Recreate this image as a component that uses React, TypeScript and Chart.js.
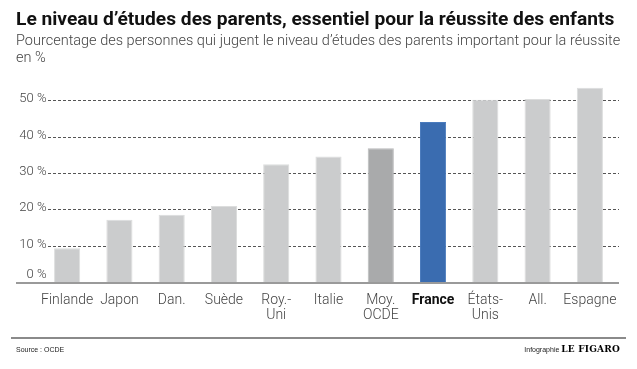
import React, { useEffect, useRef } from "react";
import { Chart, registerables } from "chart.js";

Chart.register(...registerables);

const categories: (string | string[])[] = [
  "Finlande",
  "Japon",
  "Dan.",
  "Suède",
  ["Roy.-", "Uni"],
  "Italie",
  ["Moy.", "OCDE"],
  "France",
  ["États-", "Unis"],
  "All.",
  "Espagne",
];
const values = [9.3, 17.1, 18.5, 20.9, 32.4, 34.5, 36.8, 44.0, 50.1, 50.3, 53.4];
const yTicks = [0, 10, 20, 30, 40, 50];
const yTickLabels = ["0 %", "10 %", "20 %", "30 %", "40 %", "50 %"];

const GREY = "#cbcccd";
const AVG = "#a9aaab";
const BLUE = "#3a6cb0";

const colorFor = (i: number) => (i === 6 ? AVG : i === 7 ? BLUE : GREY);
const borderFor = (i: number) => (i === 6 ? "#b8b9ba" : i === 7 ? "#4a7bbd" : "#dcdddd");

const gridPlugin = {
  id: "figaroGrid",
  beforeDatasetsDraw(chart: any) {
    const { ctx } = chart;
    const y = chart.scales.y;
    ctx.save();
    ctx.font = "300 13px Roboto";
    ctx.fillStyle = "#444";
    ctx.textAlign = "right";
    yTicks.forEach((v, i) => {
      const py = Math.round(y.getPixelForValue(v)) + 0.5;
      if (v > 0) {
        ctx.strokeStyle = "#555";
        ctx.lineWidth = 1;
        ctx.setLineDash([3, 2]);
        ctx.beginPath();
        ctx.moveTo(48, py);
        ctx.lineTo(619, py);
        ctx.stroke();
        ctx.textBaseline = "alphabetic";
        ctx.fillText(yTickLabels[i], 46.5, py + 1);
      } else {
        ctx.textBaseline = "alphabetic";
        ctx.fillText(yTickLabels[i], 46.5, py - 5);
      }
    });
    ctx.restore();
  },
  afterDatasetsDraw(chart: any) {
    const { ctx } = chart;
    const y = chart.scales.y;
    const py = y.getPixelForValue(0);
    ctx.save();
    ctx.setLineDash([]);
    ctx.strokeStyle = "#9a9a9a";
    ctx.lineWidth = 2;
    ctx.beginPath();
    ctx.moveTo(16, py + 1);
    ctx.lineTo(619, py + 1);
    ctx.stroke();
    ctx.restore();
  },
};

export default function App() {
  const ref = useRef<HTMLCanvasElement | null>(null);

  useEffect(() => {
    document.body.style.margin = "0";
    const canvas = ref.current;
    if (!canvas) return;
    const chart = new Chart(canvas, {
      type: "bar",
      data: {
        labels: categories,
        datasets: [
          {
            data: values,
            backgroundColor: values.map((_, i) => colorFor(i)),
            borderColor: values.map((_, i) => borderFor(i)),
            borderWidth: 1,
            barPercentage: 0.5,
            categoryPercentage: 1.0,
          },
        ],
      },
      options: {
        animation: false,
        responsive: false,
        maintainAspectRatio: false,
        layout: { padding: { left: 41, right: 21, top: 82, bottom: 0 } },
        plugins: {
          legend: { display: false },
          tooltip: { enabled: false },
          title: { display: false },
        },
        scales: {
          y: {
            display: false,
            min: 0,
            max: 55,
          },
          x: {
            grid: { display: false },
            border: { display: false },
            afterFit: (scale: any) => {
              scale.height = 87;
            },
            ticks: {
              autoSkip: false,
              maxRotation: 0,
              padding: 3,
              color: (ctx: any) => (ctx.index === 7 ? "#111" : "#444"),
              font: (ctx: any) => ({
                family: "Roboto",
                size: 14,
                weight: ctx.index === 7 ? "bold" : "300",
                lineHeight: 1.08,
              }),
            },
          },
        },
      },
      plugins: [gridPlugin],
    });
    return () => chart.destroy();
  }, []);

  return (
    <div
      style={{
        position: "relative",
        width: 637,
        height: 369,
        background: "#fff",
        overflow: "hidden",
        fontFamily: "Roboto, sans-serif",
      }}
    >
      <canvas
        ref={ref}
        width={637}
        height={369}
        style={{ position: "absolute", left: 0, top: 0, width: 637, height: 369 }}
      />
      <div
        style={{
          position: "absolute",
          left: 16,
          top: 7,
          fontSize: 19.2,
          fontWeight: 700,
          color: "#111",
          whiteSpace: "nowrap",
          lineHeight: "24px",
        }}
      >
        Le niveau d’études des parents, essentiel pour la réussite des enfants
      </div>
      <div
        style={{
          position: "absolute",
          left: 16,
          top: 32,
          fontSize: 14.5,
          fontWeight: 300,
          color: "#444",
          whiteSpace: "nowrap",
          lineHeight: "17px",
        }}
      >
        Pourcentage des personnes qui jugent le niveau d’études des parents important pour la réussite
        <br />
        en %
      </div>
      <div
        style={{
          position: "absolute",
          left: 11,
          top: 337,
          width: 615,
          height: 2,
          background: "#8a8a8a",
        }}
      />
      <div
        style={{
          position: "absolute",
          left: 16,
          top: 345,
          fontSize: 7,
          fontFamily: "Arial, Liberation Sans, sans-serif",
          color: "#222",
          lineHeight: "10px",
        }}
      >
        Source : OCDE
      </div>
      <div
        style={{
          position: "absolute",
          right: 17,
          top: 344,
          fontSize: 7,
          fontFamily: "Arial, Liberation Sans, sans-serif",
          color: "#222",
          lineHeight: "11px",
          whiteSpace: "nowrap",
        }}
      >
        Infographie{" "}
        <span
          style={{
            fontFamily: "DejaVu Serif, serif",
            fontWeight: 900,
            fontSize: 9,
            letterSpacing: 0.2,
            color: "#000",
          }}
        >
          LE FIGARO
        </span>
      </div>
    </div>
  );
}
